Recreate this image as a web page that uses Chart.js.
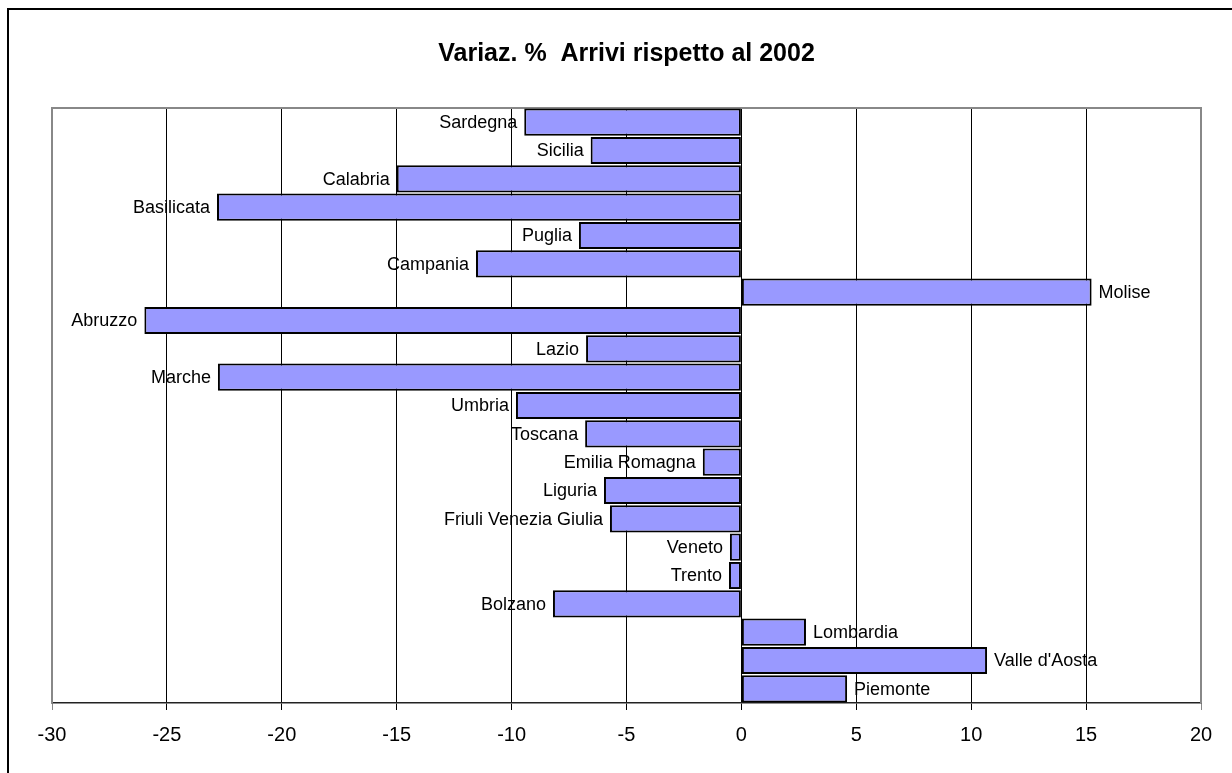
<!DOCTYPE html>
<html>
<head>
<meta charset="utf-8">
<script src="https://cdn.jsdelivr.net/npm/chart.js@4.4.1/dist/chart.umd.min.js"></script>
<style>
html,body{margin:0;padding:0;background:#fff;}
canvas{display:block;}
</style>
</head>
<body>
<canvas id="c" width="1232" height="773"></canvas>
<script>
const chartTitle = 'Variaz. %  Arrivi rispetto al 2002';
const regions = ['Sardegna','Sicilia','Calabria','Basilicata','Puglia','Campania','Molise','Abruzzo','Lazio','Marche','Umbria','Toscana','Emilia Romagna','Liguria','Friuli Venezia Giulia','Veneto','Trento','Bolzano','Lombardia',"Valle d'Aosta",'Piemonte'];
const variations = [-9.45,-6.56,-15.0,-22.82,-7.07,-11.55,15.24,-25.98,-6.76,-22.78,-9.81,-6.8,-1.68,-5.98,-5.72,-0.5,-0.54,-8.2,2.81,10.69,4.6];
const xTicks = [-30,-25,-20,-15,-10,-5,0,5,10,15,20];

const FONT = "'Liberation Sans', Arial, sans-serif";

const framePlugin = {
  id: 'frame',
  beforeDraw(chart) {
    const ctx = chart.ctx;
    ctx.save();
    ctx.fillStyle = '#fff';
    ctx.fillRect(0, 0, chart.width, chart.height);
    ctx.strokeStyle = '#000';
    ctx.lineWidth = 2;
    ctx.beginPath();
    ctx.moveTo(8, chart.height + 5);
    ctx.lineTo(8, 9);
    ctx.lineTo(chart.width + 5, 9);
    ctx.stroke();
    ctx.restore();
  },
  beforeDatasetsDraw(chart) {
    const a = chart.chartArea;
    const ctx = chart.ctx;
    ctx.save();
    ctx.strokeStyle = '#888';
    ctx.lineWidth = 2;
    ctx.beginPath();
    ctx.moveTo(a.left, a.bottom);
    ctx.lineTo(a.left, a.top);
    ctx.lineTo(a.right, a.top);
    ctx.lineTo(a.right, a.bottom);
    ctx.stroke();
    ctx.restore();
  }
};

const labelPlugin = {
  id: 'barLabels',
  afterDatasetsDraw(chart) {
    const ctx = chart.ctx;
    const meta = chart.getDatasetMeta(0);
    ctx.save();
    ctx.font = '18px ' + FONT;
    ctx.fillStyle = '#000';
    ctx.textBaseline = 'middle';
    meta.data.forEach((bar, i) => {
      const v = variations[i];
      if (v < 0) {
        ctx.textAlign = 'right';
        ctx.fillText(regions[i], bar.x - 7, bar.y + 1);
      } else {
        ctx.textAlign = 'left';
        ctx.fillText(regions[i], bar.x + 7, bar.y + 1);
      }
    });
    ctx.restore();
  }
};

new Chart(document.getElementById('c'), {
  type: 'bar',
  data: {
    labels: regions,
    datasets: [{
      data: variations,
      backgroundColor: '#9999FF',
      borderColor: '#000',
      borderWidth: 2,
      borderSkipped: false,
      barPercentage: 0.96,
      categoryPercentage: 1.0
    }]
  },
  options: {
    indexAxis: 'y',
    responsive: false,
    animation: false,
    devicePixelRatio: 1,
    layout: { padding: { left: 52, right: 31, top: 0, bottom: 13 } },
    plugins: {
      legend: { display: false },
      tooltip: { enabled: false },
      title: {
        display: true,
        text: chartTitle,
        color: '#000',
        font: { family: FONT, size: 25, weight: 'bold', lineHeight: 1.2 },
        padding: { top: 39, bottom: 39 }
      }
    },
    scales: {
      x: {
        type: 'linear',
        min: -30,
        max: 20,
        afterBuildTicks(scale) { scale.ticks = xTicks.map(v => ({ value: v })); },
        ticks: {
          color: '#000',
          padding: 13,
          font: { family: FONT, size: 20 },
          callback: v => String(v)
        },
        grid: {
          color: ctx => (ctx.tick && (ctx.tick.value === -30 || ctx.tick.value === 20)) ? '#888' : '#000',
          lineWidth: 1,
          tickLength: 7,
          drawTicks: true
        },
        border: { display: true, color: '#222', width: 1.5 }
      },
      y: {
        display: false
      }
    }
  },
  plugins: [framePlugin, labelPlugin]
});
</script>
</body>
</html>
